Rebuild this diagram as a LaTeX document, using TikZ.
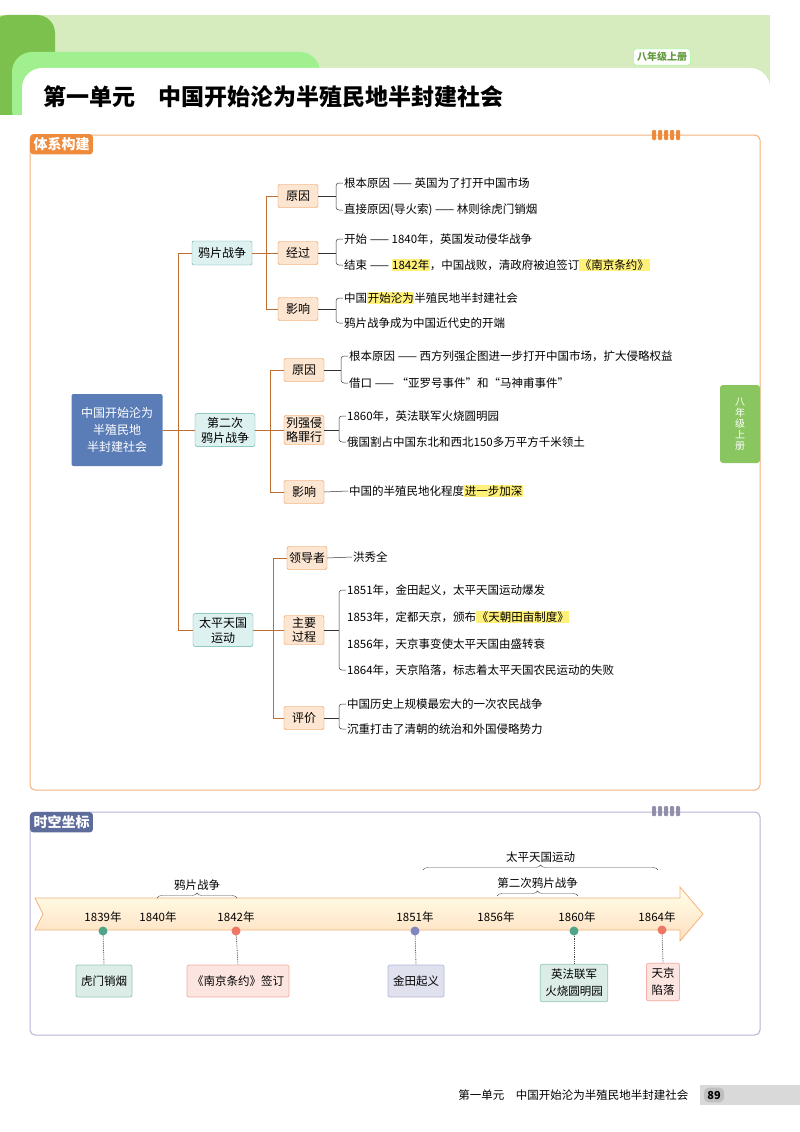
\documentclass[tikz,border=0pt]{standalone}
\usepackage{fontspec}
\setmainfont{Noto Sans CJK SC}
\usetikzlibrary{positioning,decorations.pathreplacing}
\definecolor{hdgreen}{HTML}{D6EBBE}
\definecolor{dkgreen}{HTML}{7CC04E}
\definecolor{frorange}{HTML}{F2B27A}
\definecolor{tagorange}{HTML}{EE8A3C}
\definecolor{rootblue}{HTML}{5A7DB8}
\definecolor{lvbox}{HTML}{DDF1F0}
\definecolor{lvline}{HTML}{5BAFA8}
\definecolor{ltbox}{HTML}{FCE6D2}
\definecolor{hly}{HTML}{FFF07A}
\definecolor{tlframe}{HTML}{B7B3D6}
\definecolor{tltag}{HTML}{5E6C9C}
\definecolor{dteal}{HTML}{4FA58A}
\definecolor{dred}{HTML}{EE7863}
\definecolor{dpurple}{HTML}{8287C0}
\newcommand{\hlt}[1]{{\setlength{\fboxsep}{0.6pt}\colorbox{hly}{#1}}}
\newcommand{\brk}[3]{\coordinate (#1k) at ([xshift=-7pt]#2.west);
  \draw[brk] (#2.west) -- (#1k) |- (#3.west);
  \draw[brk] (#1.east) -- (#1.east -| #1k);}

\begin{document}
\begin{tikzpicture}[x=1pt,y=-1pt,
  root/.style={fill=rootblue,text=white,rounded corners=2pt,align=center,
    minimum width=91pt,minimum height=72pt,font=\fontsize{12}{17}\selectfont},
  lvone/.style={fill=lvbox,draw=lvline,rounded corners=2pt,align=center,
    minimum width=60pt,minimum height=24pt,font=\fontsize{12}{15}\selectfont},
  lvtwo/.style={fill=ltbox,draw=tagorange,rounded corners=2pt,align=center,
    minimum width=40pt,minimum height=23pt,inner sep=2pt,font=\fontsize{12}{14}\selectfont},
  item/.style={anchor=west,inner sep=1pt,font=\fontsize{11.5}{13}\selectfont},
  tree/.style={draw=tagorange!80!black,line width=0.6pt},
  brk/.style={draw=black!80,line width=0.5pt,rounded corners=3pt},
  yr/.style={font=\fontsize{11.5}{13}\selectfont\itshape},
  dot/.style={circle,inner sep=0pt,minimum size=9pt},
  ev/.style={rounded corners=2pt,align=center,line width=0.7pt,
    font=\fontsize{11.5}{17}\selectfont,minimum height=32pt,inner sep=5pt},
  brace/.style={decorate,decoration={brace,amplitude=5pt},draw=black!70}]
\useasboundingbox (0,0) rectangle (800,1132);
% header
\fill[hdgreen] (0,15) rectangle (770,115);
\fill[dkgreen,rounded corners=18pt] (-10,15) rectangle (55,120);
\fill[green!25!hdgreen,rounded corners=20pt] (12,52) rectangle (320,130);
\fill[white,rounded corners=20pt] (22,68) rectangle (770,1140);
\fill[white] (0,115) rectangle (800,1132);
\node[draw=green!40,fill=white,rounded corners=3pt,text=dkgreen!80!black,
  font=\fontsize{10}{12}\bfseries] (grade) at (662,57) {八年级上册};
\node[anchor=west,font=\fontsize{23}{26}\bfseries] (title) at (40,97)
  {第一单元\quad 中国开始沦为半殖民地半封建社会};
% frame 1
\draw[frorange,line width=1pt,rounded corners=5pt] (30,135) rectangle (760,790);
\foreach \i in {0,...,4}
  \fill[tagorange,rounded corners=1pt] (652+\i*6,130) rectangle (656+\i*6,140);
\node[fill=tagorange,text=white,rounded corners=3pt,anchor=north west,
  font=\fontsize{14}{16}\bfseries] (tagA) at (30,134) {体系构建};
\node[fill=dkgreen!90,text=white,rounded corners=3pt,minimum width=40pt,
  minimum height=78pt,align=center,font=\fontsize{10}{11}\selectfont] (side) at (740,424)
  {八\\年\\级\\上\\册};
% tree
\node[root] (root) at (117,430) {中国开始沦为\\半殖民地\\半封建社会};
\node[lvone] (yp) at (222,253) {鸦片战争};
\node[lvone] (dj) at (225,430) {第二次\\鸦片战争};
\node[lvone] (tp) at (223,630) {太平天国\\运动};
\draw[tree] (root.east) -- (dj.west);
\draw[tree] (yp.west) -- ++(-14,0) |- (tp.west);

\node[lvtwo] (a1) at (298,196) {原因};
\node[lvtwo] (a2) at (298,253) {经过};
\node[lvtwo] (a3) at (298,309) {影响};
\draw[tree] (yp.east) -- (a2.west);
\draw[tree] (a1.west) -- ++(-12,0) |- (a3.west);

\node[lvtwo] (b1) at (304,370) {原因};
\node[lvtwo] (b2) at (304,430) {列强侵\\略罪行};
\node[lvtwo] (b3) at (304,492) {影响};
\draw[tree] (dj.east) -- (b2.west);
\draw[tree] (b1.west) -- ++(-14,0) |- (b3.west);

\node[lvtwo] (c1) at (307,558) {领导者};
\node[lvtwo] (c2) at (304,630) {主要\\过程};
\node[lvtwo] (c3) at (304,718) {评价};
\draw[tree] (tp.east) -- (c2.west);
\draw[tree] (c1.west) -- ++(-14,0) |- (c3.west);

\node[item] (a11) at (343,183) {根本原因 —— 英国为了打开中国市场};
\node[item] (a12) at (343,210) {直接原因(导火索) —— 林则徐虎门销烟};
\node[item] (a21) at (343,239) {开始 —— 1840年，英国发动侵华战争};
\node[item] (a22) at (343,265) {结束 —— \hlt{1842年}，中国战败，清政府被迫签订\hlt{《南京条约》}};
\node[item] (a31) at (343,298) {中国\hlt{开始沦为}半殖民地半封建社会};
\node[item] (a32) at (343,323) {鸦片战争成为中国近代史的开端};
\brk{a1}{a11}{a12}
\brk{a2}{a21}{a22}
\brk{a3}{a31}{a32}

\node[item] (b11) at (348,356) {根本原因 —— 西方列强企图进一步打开中国市场，扩大侵略权益};
\node[item] (b12) at (348,383) {借口 —— “亚罗号事件”和“马神甫事件”};
\node[item] (b21) at (346,416) {1860年，英法联军火烧圆明园};
\node[item] (b22) at (346,442) {俄国割占中国东北和西北150多万平方千米领土};
\node[item] (b31) at (348,491) {中国的半殖民地化程度\hlt{进一步加深}};
\brk{b1}{b11}{b12}
\brk{b2}{b21}{b22}
\draw[brk] (b3.east) -- (b31.west);

\node[item] (c11) at (352,557) {洪秀全};
\draw[brk] (c1.east) -- (c11.west);
\node[item] (c21) at (346,590) {1851年，金田起义，太平天国运动爆发};
\node[item] (c22) at (346,617) {1853年，定都天京，颁布\hlt{《天朝田亩制度》}};
\node[item] (c23) at (346,644) {1856年，天京事变使太平天国由盛转衰};
\node[item] (c24) at (346,670) {1864年，天京陷落，标志着太平天国农民运动的失败};
\brk{c2}{c21}{c24}
\node[item] (c31) at (346,704) {中国历史上规模最宏大的一次农民战争};
\node[item] (c32) at (346,729) {沉重打击了清朝的统治和外国侵略势力};
\brk{c3}{c31}{c32}

% frame 2
\draw[tlframe,line width=1pt,rounded corners=5pt] (30,812) rectangle (760,1035);
\foreach \i in {0,...,4}
  \fill[tlframe!80!black,rounded corners=1pt] (652+\i*6,806) rectangle (656+\i*6,816);
\node[fill=tltag,text=white,rounded corners=3pt,anchor=north west,
  font=\fontsize{14}{16}\bfseries] (tagB) at (30,812) {时空坐标};
\draw[frorange,line width=0.8pt,top color=yellow!8,bottom color=orange!25]
  (35,898) -- (680,898) -- (680,887) -- (703,914) -- (680,941) -- (680,930)
  -- (35,930) -- (43,914) -- cycle;
\node[yr] (y39) at (103,917) {1839年};
\node[yr] (y40) at (158,917) {1840年};
\node[yr] (y42) at (236,917) {1842年};
\node[yr] (y51) at (415,917) {1851年};
\node[yr] (y56) at (496,917) {1856年};
\node[yr] (y60) at (577,917) {1860年};
\node[yr] (y64) at (657,917) {1864年};
\node[dot,fill=dteal] (d39) at (103,931) {};
\node[dot,fill=dred] (d42) at (236,931) {};
\node[dot,fill=dpurple] (d51) at (415,931) {};
\node[dot,fill=dteal] (d60) at (574,931) {};
\node[dot,fill=dred] (d64) at (662,930) {};
\node[ev,draw=dteal!60,fill=dteal!20] (e39) at (104,981) {虎门销烟};
\node[ev,draw=dred!60,fill=dred!20] (e42) at (238,981) {《南京条约》签订};
\node[ev,draw=dpurple!60,fill=dpurple!25] (e51) at (416,981) {金田起义};
\node[ev,draw=dteal!60,fill=dteal!20] (e60) at (574,983) {英法联军\\火烧圆明园};
\node[ev,draw=dred!60,fill=dred!20] (e64) at (663,982) {天京\\陷落};
\foreach \d/\e in {d39/e39,d42/e42,d51/e51,d60/e60,d64/e64}
  \draw[densely dotted,black!70,line width=0.8pt] (\d) -- (\e.north);
\draw[brace] (157,898) -- node[above=4pt,font=\fontsize{11.5}{13}\selectfont] (lb1) {鸦片战争} (237,898);
\draw[brace] (497,896) -- node[above=4pt,font=\fontsize{11.5}{13}\selectfont] (lb2) {第二次鸦片战争} (578,896);
\draw[brace] (423,870) -- node[above=4pt,font=\fontsize{11.5}{13}\selectfont] (lb3) {太平天国运动} (658,870);
% footer
\node[anchor=east,font=\fontsize{11.5}{13}\selectfont] (foot) at (692,1095)
  {第一单元\quad 中国开始沦为半殖民地半封建社会};
\fill[black!15] (700,1085) rectangle (800,1105);
\node[fill=black!25,rounded corners=5pt,font=\fontsize{11}{13}\bfseries] (pg) at (714,1095) {89};
\end{tikzpicture}
\end{document}
